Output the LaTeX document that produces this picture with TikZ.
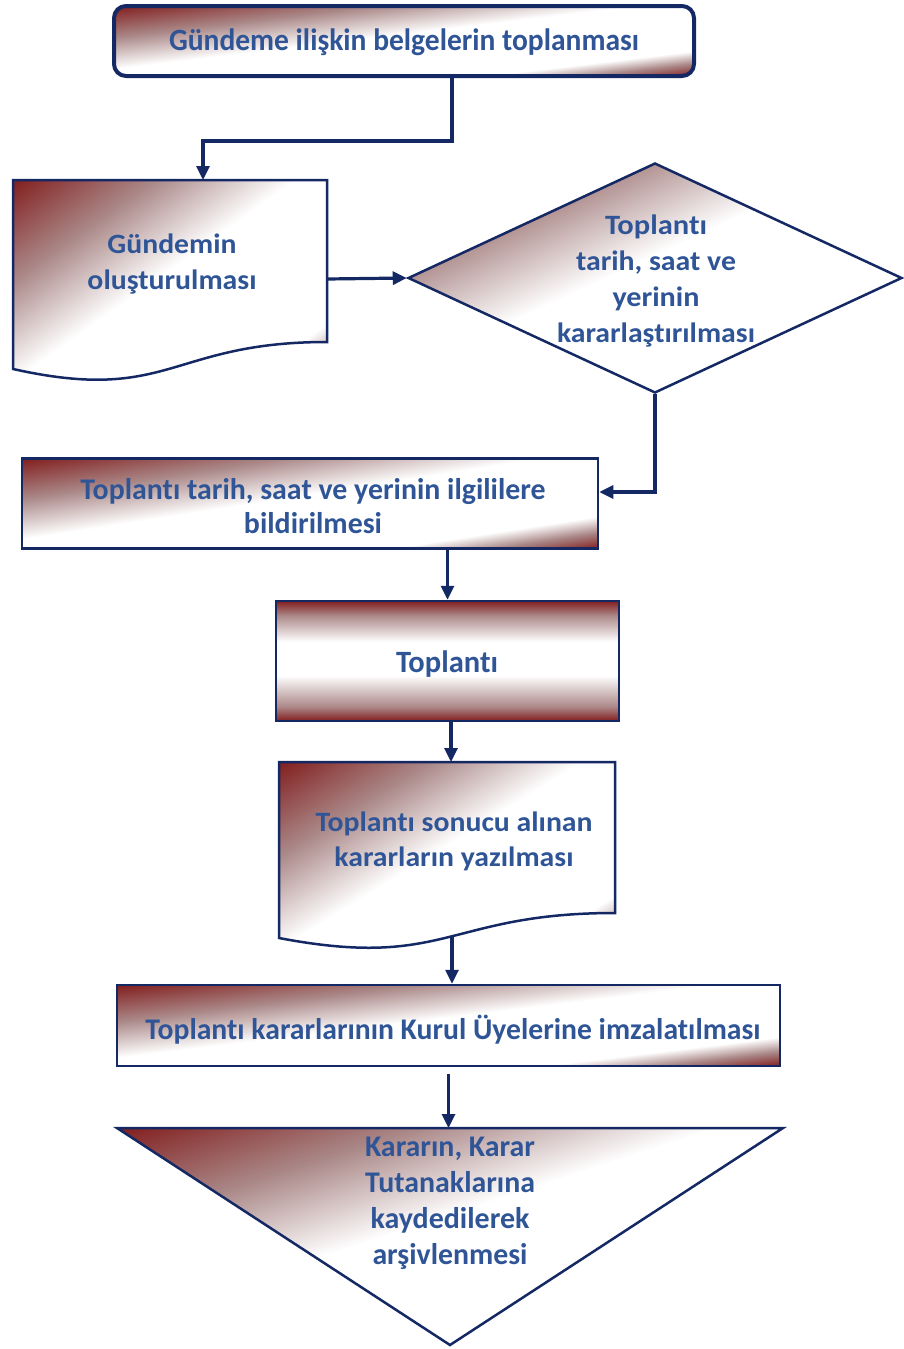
\documentclass[tikz,border=0pt]{standalone}
\usepackage{fontspec}
\setmainfont{Carlito}[Ligatures={NoCommon}]
\usepackage{graphicx}
\usetikzlibrary{arrows.meta,shapes.geometric}
\definecolor{dred}{RGB}{130,30,30}
\definecolor{mauve}{RGB}{172,136,136}
\definecolor{navy}{RGB}{20,40,100}
\definecolor{tblue}{RGB}{47,85,151}
% diagonal shading: dark red at top-left corner, white middle, dark red at bottom-right corner
\pgfdeclarefunctionalshading{diagfun}{\pgfpointorigin}{\pgfpoint{100bp}{100bp}}{}{
  75 exch sub 50 div
  exch 25 sub 50 div
  add 2 div
  dup 0.45 exch sub 0.45 div
  dup abs add 2 div
  dup 1 sub abs neg 1 add add 2 div
  exch 0.82 sub 0.18 div
  dup abs add 2 div
  dup 1 sub abs neg 1 add add 2 div
  add
  dup 1 sub abs neg 1 add add 2 div
  dup 0.5 sub abs
  2 copy sub 0.5 add 2 div
  3 1 roll
  add 0.5 sub 2 div
  2 copy
  0.314 mul exch 0.666 mul add 1 exch sub
  3 1 roll
  0.824 mul exch 0.94 mul add 1 exch sub
  dup
}
\pgfdeclareverticalshading{vbandsh}{100bp}{color(0bp)=(dred); color(25bp)=(dred); color(31bp)=(mauve); color(44bp)=(white); color(58bp)=(white); color(69bp)=(mauve); color(75bp)=(dred); color(100bp)=(dred)}
\newcommand{\fitw}[2]{\resizebox{#1pt}{\height}{#2}}
\begin{document}
\begin{tikzpicture}[x=1pt,y=-1pt,
  box/.style={draw=navy, line width=2.5pt, shading=diagfun},
  vbox/.style={draw=navy, line width=2.5pt, shading=vbandsh},
  txt/.style={text=tblue, align=center, inner sep=0pt},
  conn/.style={draw=navy, line width=3.2pt, -{Triangle[length=14pt,width=13pt]}}]
\useasboundingbox (0,0) rectangle (903,1349);

% shapes
\node[box, line width=4pt, rounded corners=12pt, minimum width=580pt, minimum height=70pt, inner sep=0pt] (n1) at (404,41) {};
\draw[box] (13,180) -- (327,180) -- (327,342) .. controls (170,342) and (170,404) .. (13,369) -- cycle;
\coordinate (d1top) at (203,180);
\coordinate (d1r) at (327,279);
\node[box, diamond, minimum width=494pt, minimum height=230pt, inner sep=0pt] (dia) at (655,278) {};
\node[box, minimum width=576pt, minimum height=90pt, inner sep=0pt] (r4) at (310,503.5) {};
\node[vbox, minimum width=343pt, minimum height=120pt, inner sep=0pt] (r5) at (447.5,661) {};
\draw[box] (279,762) -- (615,762) -- (615,913) .. controls (447,913) and (447,970) .. (279,938) -- cycle;
\coordinate (d2top) at (451,762);
\coordinate (d2bot) at (452,937);
\node[box, minimum width=663pt, minimum height=81pt, inner sep=0pt] (r7) at (448.5,1025.5) {};
\draw[box] (117,1128) -- (783,1128) -- (450,1345) -- cycle;
\coordinate (tri) at (448.5,1128);

% texts
\node[txt, font=\fontsize{31}{36}\selectfont\bfseries] (t1) at (404,42) {\fitw{470}{Gündeme ilişkin belgelerin toplanması}};
\node[txt, font=\fontsize{28}{36}\selectfont\bfseries] (t2) at (172,264) {\fitw{129}{Gündemin}\\\fitw{169}{oluşturulması}};
\node[txt, font=\fontsize{28}{36}\selectfont\bfseries] (t3) at (656,281) {\fitw{102}{Toplantı}\\\fitw{160}{tarih, saat ve}\\\fitw{87}{yerinin}\\\fitw{198}{kararlaştırılması}};
\node[txt, font=\fontsize{30}{34}\selectfont\bfseries] (t4) at (313,506) {\fitw{465}{Toplantı tarih, saat ve yerinin ilgililere}\\\fitw{138}{bildirilmesi}};
\node[txt, font=\fontsize{31}{36}\selectfont\bfseries] (t5) at (447,664) {\fitw{102}{Toplantı}};
\node[txt, font=\fontsize{28}{35}\selectfont\bfseries] (t6) at (454,841) {\fitw{277}{Toplantı sonucu alınan}\\\fitw{239}{kararların yazılması}};
\node[txt, font=\fontsize{30}{36}\selectfont\bfseries] (t7) at (453,1030) {\fitw{615}{Toplantı kararlarının Kurul Üyelerine imzalatılması}};
\node[txt, font=\fontsize{30}{36}\selectfont\bfseries] (t8) at (450,1203) {\fitw{170}{Kararın, Karar}\\\fitw{170}{Tutanaklarına}\\\fitw{159}{kaydedilerek}\\\fitw{155}{arşivlenmesi}};

% connectors
\draw[conn] ([xshift=48pt]n1.south) -- ++(0,63) -| (d1top);
\draw[conn] (d1r) -- (dia.west);
\draw[conn] (dia.south) |- ([yshift=11.5pt]r4.east);
\draw[conn] (r5.north |- r4.south) -- (r5.north);
\draw[conn] (d2top |- r5.south) -- (d2top);
\draw[conn] (d2bot) -- (d2bot |- r7.north);
\draw[conn] ([yshift=-7pt]r7.south) -- (tri);
\end{tikzpicture}
\end{document}
